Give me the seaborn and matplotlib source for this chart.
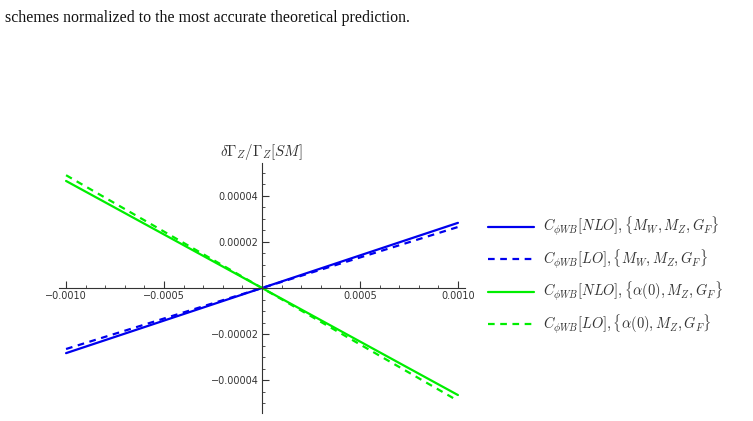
import numpy as np
import pandas as pd
import matplotlib
matplotlib.use("Agg")
import matplotlib.pyplot as plt
import seaborn as sns

# Data
x_vals = [-0.001, 0.0, 0.001]
blue_nlo = [-2.83e-5, 0.0, 2.83e-5]
blue_lo = [-2.65e-5, 0.0, 2.65e-5]
green_nlo = [4.65e-5, 0.0, -4.65e-5]
green_lo = [4.90e-5, 0.0, -4.90e-5]
labels = [r'$C_{\phi WB}[NLO],\{M_W,M_Z,G_F\}$',
          r'$C_{\phi WB}[LO],\{M_W,M_Z,G_F\}$',
          r'$C_{\phi WB}[NLO],\{\alpha(0),M_Z,G_F\}$',
          r'$C_{\phi WB}[LO],\{\alpha(0),M_Z,G_F\}$']
xticks = [-0.0010, -0.0005, 0.0005, 0.0010]
xticklabels = ['\u22120.0010', '\u22120.0005', '0.0005', '0.0010']
yticks = [0.00004, 0.00002, -0.00002, -0.00004]
yticklabels = ['0.00004', '0.00002', '\u22120.00002', '\u22120.00004']

sns.set_style("white")
plt.rcParams['mathtext.fontset'] = 'cm'
plt.rcParams['font.family'] = ['DejaVu Sans']

fig = plt.figure(figsize=(7.53, 4.21), dpi=100)
W, H = 753, 421
x0, x1 = 59, 465
y0, y1 = 163, 413
ax = fig.add_axes([x0 / W, 1 - y1 / H, (x1 - x0) / W, (y1 - y0) / H])

series = [(blue_nlo, '#0000ee', '-'), (blue_lo, '#0000ee', (0, (3, 2.5))),
          (green_nlo, '#00ee00', '-'), (green_lo, '#00ee00', (0, (3, 2.5)))]
handles = []
for (vals, col, ls), lab in zip(series, labels):
    df = pd.DataFrame({'x': x_vals, 'y': vals})
    sns.lineplot(data=df, x='x', y='y', ax=ax, color=col, linewidth=1.6, label=lab)
    ln = ax.lines[-1]
    ln.set_linestyle(ls)
    handles.append(ln)

ax.set_xlim(-0.001036, 0.001036)
ax.set_ylim(-5.43e-5, 5.43e-5)
for s in ['top', 'right']:
    ax.spines[s].set_visible(False)
ax.spines['left'].set_position(('data', 0))
ax.spines['bottom'].set_position(('data', 0))
for s in ['left', 'bottom']:
    ax.spines[s].set_color('#333333')
    ax.spines[s].set_linewidth(0.8)
ax.set_xticks(xticks)
ax.set_xticklabels(xticklabels)
ax.set_yticks(yticks)
ax.set_yticklabels(yticklabels)
ax.set_xticks(np.arange(-0.001, 0.00101, 0.0001), minor=True)
ax.set_yticks(np.arange(-0.00005, 0.0000501, 0.000005), minor=True)
ax.tick_params(which='both', bottom=True, left=True, top=False, right=False)
ax.tick_params(which='major', direction='in', length=5, width=0.8, color='#333333',
               labelsize=7, labelcolor='#333333', pad=2.5)
ax.tick_params(which='minor', direction='in', length=2.5, width=0.6, color='#333333')
ax.set_xlabel('')
ax.set_ylabel('')
ax.get_legend().remove()

fig.text(261 / W, 1 - 152 / H, r'$\delta\Gamma_Z/\Gamma_Z[SM]$', ha='center', va='center',
         fontsize=10.8, color='#333333')

leg = fig.legend(handles=handles, labels=labels, loc='upper left',
                 bbox_to_anchor=(475 / W, 1 - 202 / H), frameon=False,
                 handlelength=3.2, labelspacing=0.65, fontsize=10.4, handletextpad=0.6)
for t in leg.get_texts():
    t.set_color('#333333')

fig.text(5 / W, 1 - 18 / H, 'schemes normalized to the most accurate theoretical prediction.',
         ha='left', va='center', fontsize=11.4, family='Liberation Serif', color='#111111')

fig.savefig('out.png', dpi=100)
